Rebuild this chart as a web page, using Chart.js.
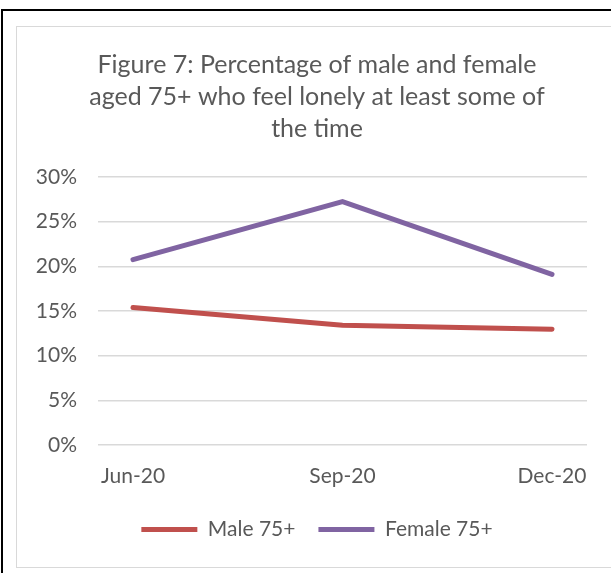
<!DOCTYPE html>
<html>
<head>
<meta charset="utf-8">
<script src="https://cdn.jsdelivr.net/npm/chart.js@4"></script>
<style>
    body { margin: 0; background: #fff; overflow: hidden; }
    #marco {
        position: absolute; left: 1px; top: 9px; width: 700px; height: 600px;
        border-top: 2px solid #000; border-left: 2px solid #000;
    }
    #caja {
        position: absolute; left: 16px; top: 26px; width: 620px; height: 540px;
        border: 1.5px solid #d9d9d9; background: #fff;
    }
    #grafica-soledad { position: absolute; left: 0; top: 0; }
</style>
</head>
<body>
<div id="marco"></div>
<div id="caja">
    <canvas id="grafica-soledad" width="600" height="540"></canvas>
</div>
<script>
// Datos de la figura
const meses = ["Jun-20", "Sep-20", "Dec-20"];
const hombres75 = [15.4, 13.4, 12.95];
const mujeres75 = [20.75, 27.25, 19.1];
const ticksY = [0, 5, 10, 15, 20, 25, 30];

const GRIS_TEXTO = "#595959";
const FUENTE = "Lato";

function aPuntos(valores) {
    return valores.map((v, i) => ({ x: i, y: v }));
}

const ctx = document.getElementById("grafica-soledad").getContext("2d");

new Chart(ctx, {
    type: "line",
    data: {
        datasets: [{
            label: "Male 75+",
            data: aPuntos(hombres75),
            borderColor: "#c0504d",
            backgroundColor: "#c0504d",
            borderWidth: 5,
            borderCapStyle: "round",
            pointRadius: 0,
            tension: 0
        }, {
            label: "Female 75+",
            data: aPuntos(mujeres75),
            borderColor: "#8064a2",
            backgroundColor: "#8064a2",
            borderWidth: 5,
            borderCapStyle: "round",
            pointRadius: 0,
            tension: 0
        }]
    },
    options: {
        responsive: false,
        animation: false,
        layout: { padding: { left: 0, right: 0, top: 0, bottom: 17 } },
        plugins: {
            title: {
                display: true,
                text: ["Figure 7: Percentage of male and female",
                       "aged 75+ who feel lonely at least some of",
                       "the time"],
                color: GRIS_TEXTO,
                font: { family: FUENTE, size: 25, weight: "normal", lineHeight: 1.28 },
                padding: { top: 22, bottom: 32 }
            },
            legend: {
                position: "bottom",
                labels: {
                    usePointStyle: true,
                    pointStyle: "line",
                    pointStyleWidth: 56,
                    boxHeight: 5,
                    padding: 23,
                    color: GRIS_TEXTO,
                    font: { family: FUENTE, size: 21 }
                }
            },
            tooltip: { enabled: false }
        },
        scales: {
            x: {
                type: "linear",
                min: -0.167,
                max: 2.167,
                afterBuildTicks: (eje) => {
                    eje.ticks = meses.map((m, i) => ({ value: i }));
                },
                afterFit: (eje) => { eje.height = 51; },
                ticks: {
                    color: GRIS_TEXTO,
                    font: { family: FUENTE, size: 21 },
                    padding: 19,
                    maxRotation: 0,
                    callback: (valor) => meses[valor]
                },
                grid: { display: false, drawTicks: false },
                border: { display: false }
            },
            y: {
                min: 0,
                max: 30,
                afterBuildTicks: (eje) => {
                    eje.ticks = ticksY.map(v => ({ value: v }));
                },
                afterFit: (eje) => { eje.width = 81; },
                ticks: {
                    color: GRIS_TEXTO,
                    font: { family: FUENTE, size: 21 },
                    padding: 21,
                    callback: (valor) => valor + "%"
                },
                grid: { color: "#d9d9d9", lineWidth: 1.5, drawTicks: false },
                border: { display: false }
            },
            // eje vacío a la derecha, solo deja margen al área del gráfico
            margenDerecho: {
                type: "linear",
                position: "right",
                afterFit: (eje) => { eje.width = 30; },
                ticks: { display: false },
                grid: { display: false, drawTicks: false },
                border: { display: false }
            }
        }
    }
});
</script>
</body>
</html>
